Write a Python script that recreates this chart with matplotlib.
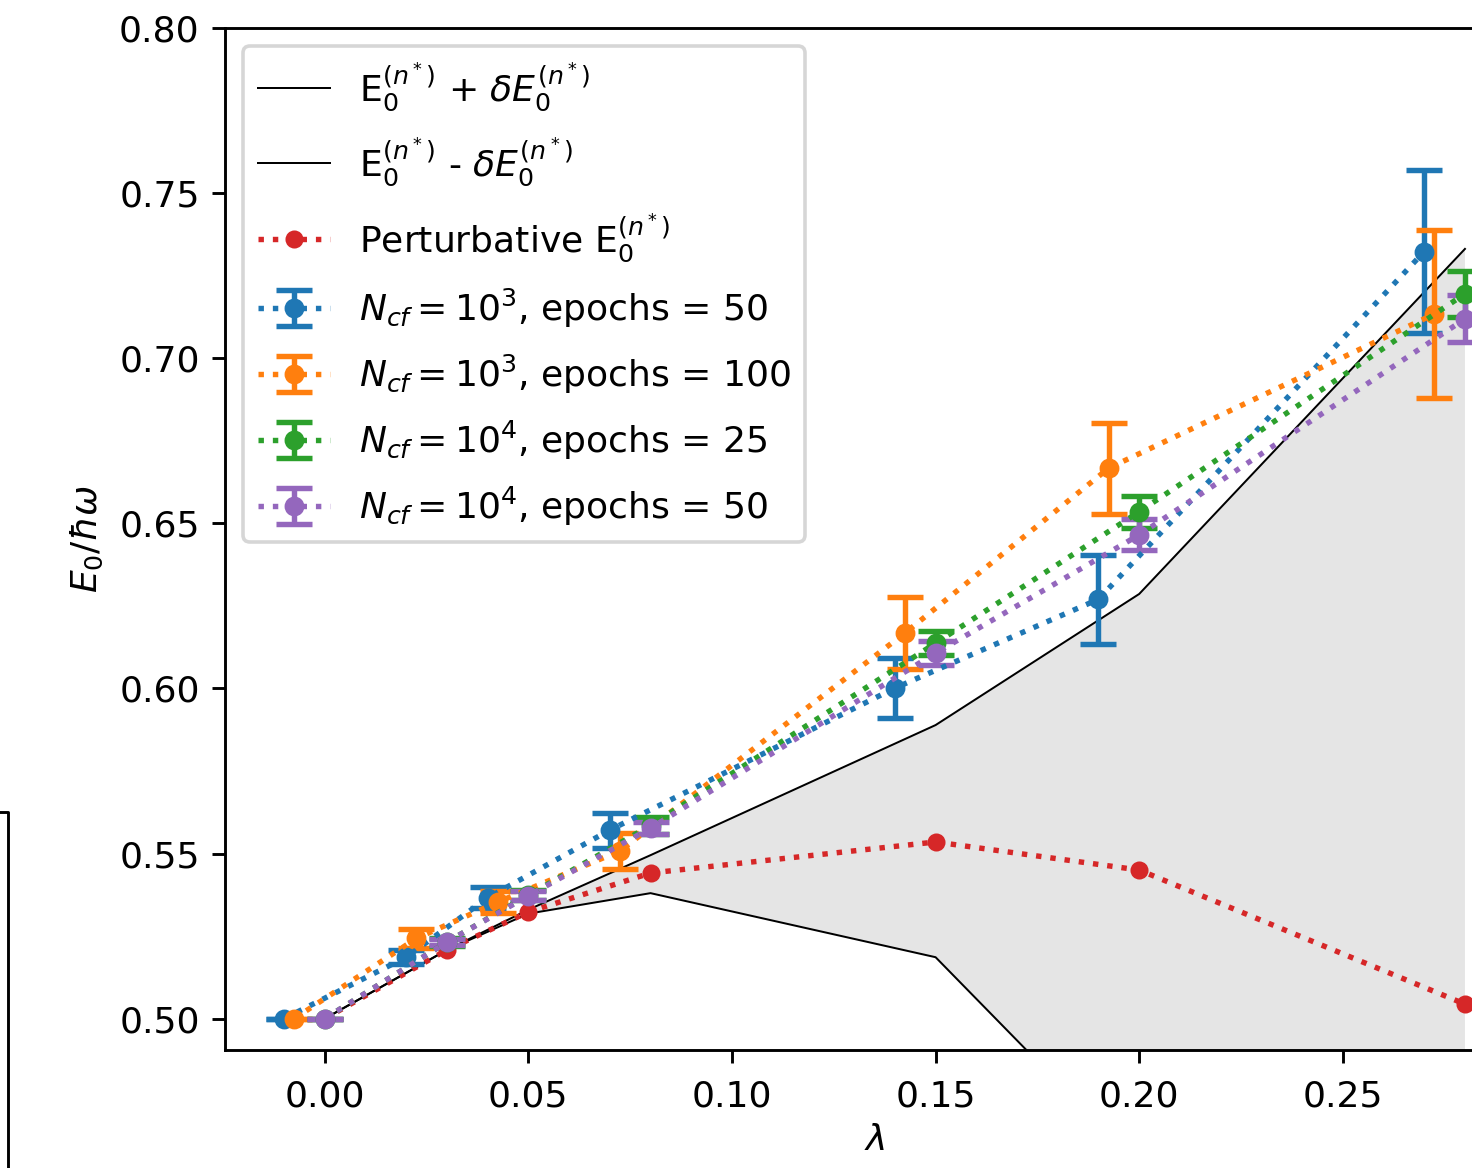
import matplotlib
matplotlib.use("Agg")
import matplotlib.pyplot as plt
from matplotlib.lines import Line2D

# ---- data ----
lam = [0.0, 0.03, 0.05, 0.08, 0.15, 0.20, 0.28]
lam_blue = [-0.01, 0.02, 0.04, 0.07, 0.14, 0.19, 0.27]
lam_orange = [-0.0075, 0.0225, 0.0425, 0.0725, 0.1425, 0.1925, 0.2725]

upper = [0.5, 0.5208, 0.5330, 0.5495, 0.5889, 0.6286, 0.7331]
lower = [0.5, 0.5208, 0.5318, 0.5380, 0.5186, 0.4556, 0.36]
pert = [0.5, 0.5208, 0.5323, 0.5441, 0.5535, 0.5450, 0.5044]

blue_y = [0.5, 0.5186, 0.5366, 0.5571, 0.6001, 0.6270, 0.7323]
blue_e = [0.0, 0.0021, 0.0032, 0.0053, 0.0090, 0.0135, 0.0248]
orange_y = [0.5, 0.5243, 0.5353, 0.5508, 0.6168, 0.6667, 0.7134]
orange_e = [0.0, 0.0029, 0.0033, 0.0055, 0.0109, 0.0138, 0.0254]
green_y = [0.5, 0.5232, 0.5374, 0.5585, 0.6137, 0.6535, 0.7195]
green_e = [0.0, 0.0012, 0.0015, 0.0027, 0.0036, 0.0048, 0.0070]
purple_y = [0.5, 0.5232, 0.5372, 0.5577, 0.6107, 0.6465, 0.7119]
purple_e = [0.0, 0.0010, 0.0014, 0.0017, 0.0036, 0.0047, 0.0071]

labels = [
    r'E$_0^{(n^*)}$ + $\delta E_0^{(n^*)}$',
    r'E$_0^{(n^*)}$ - $\delta E_0^{(n^*)}$',
    r'Perturbative E$_0^{(n^*)}$',
    r'$N_{cf} = 10^3$, epochs = 50',
    r'$N_{cf} = 10^3$, epochs = 100',
    r'$N_{cf} = 10^4$, epochs = 25',
    r'$N_{cf} = 10^4$, epochs = 50',
]

DPI = 260
fig = plt.figure(figsize=(1472 / DPI, 1168 / DPI), dpi=DPI)
W, H = 1472, 1168
ax = fig.add_axes([225 / W, 1 - 1050 / H, (1524 - 225) / W, (1050 - 28) / H])

ax.plot(lam, upper, color='k', lw=0.55, label=labels[0])
ax.plot(lam, lower, color='k', lw=0.55, label=labels[1])
ax.fill_between(lam, lower, upper, color='grey', alpha=0.2, lw=0)
ax.plot(lam, pert, 'o:', color='C3', ms=4, label=labels[2])

ekw = dict(fmt='o:', ms=4.5, capsize=5, capthick=1.5, elinewidth=1.5)
ax.errorbar(lam_blue, blue_y, yerr=blue_e, color='C0', label=labels[3], **ekw)
ax.errorbar(lam_orange, orange_y, yerr=orange_e, color='C1', label=labels[4], **ekw)
ax.errorbar(lam, green_y, yerr=green_e, color='C2', label=labels[5], **ekw)
ax.errorbar(lam, purple_y, yerr=purple_e, color='C4', label=labels[6], **ekw)

ax.set_xlim(-0.0245, 0.2945)
ax.set_ylim(0.4905, 0.80)
ax.set_xticks([0.0, 0.05, 0.10, 0.15, 0.20, 0.25])
ax.set_yticks([0.50, 0.55, 0.60, 0.65, 0.70, 0.75, 0.80])
ax.tick_params(axis='x', pad=4.8)
ax.set_xlabel(r'$\lambda$', labelpad=2.5)
ax.set_ylabel(r'$E_0/\hbar\omega$')
ax.legend(loc='upper left', labelspacing=0.63)

# stray frame corner at the left edge of the picture
fig.add_artist(Line2D([0, 8 / W, 8 / W], [1 - 812 / H, 1 - 812 / H, 0],
                      color='k', lw=0.8, transform=fig.transFigure))

fig.savefig('out.png', dpi=DPI)
